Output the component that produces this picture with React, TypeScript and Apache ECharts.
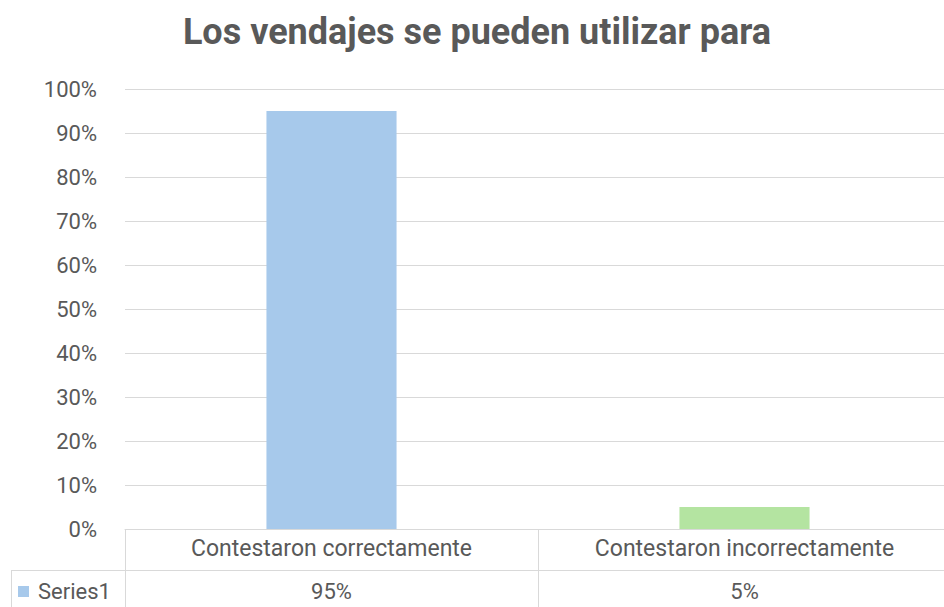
import React, { useEffect, useRef } from "react";
import * as echarts from "echarts";

const titleText = "Los vendajes se pueden utilizar para";
const categories = ["Contestaron correctamente", "Contestaron incorrectamente"];
const values = [0.95, 0.05];
const barColors = ["#a7c9eb", "#b4e4a1"];
const seriesName = "Series1";
const yTicks = [0, 0.1, 0.2, 0.3, 0.4, 0.5, 0.6, 0.7, 0.8, 0.9, 1.0];

const pct = (v: number) => `${Math.round(v * 100)}%`;
const textColor = "#595959";
const lineColor = "#d9d9d9";
const font = "Roboto, sans-serif";

export default function App() {
  const ref = useRef<HTMLDivElement>(null);
  useEffect(() => {
    document.body.style.margin = "0";
    document.body.style.overflow = "hidden";
    const chart = echarts.init(ref.current!, null, { renderer: "svg" });
    const valueLabels = values.map(pct);
    chart.setOption({
      animation: false,
      title: {
        text: titleText,
        left: 472,
        textAlign: "center",
        top: 9,
        textStyle: { fontFamily: font, fontWeight: "bold", fontSize: 36, color: textColor },
      },
      grid: { left: 125, width: 826, top: 89, bottom: 78, containLabel: false },
      xAxis: [
        {
          type: "category",
          data: categories,
          position: "bottom",
          axisLine: { show: true, lineStyle: { color: lineColor, width: 1 } },
          axisTick: { show: true, length: 80, alignWithLabel: false, lineStyle: { color: lineColor } },
          axisLabel: { color: textColor, fontSize: 23, fontFamily: font, margin: 8 },
        },
        {
          type: "category",
          data: valueLabels,
          position: "bottom",
          offset: 42,
          axisLine: { show: false },
          axisTick: { show: false },
          axisLabel: { color: textColor, fontSize: 22, fontFamily: font, margin: 9 },
        },
      ],
      yAxis: {
        type: "value",
        min: 0,
        max: 1,
        interval: 0.1,
        axisLine: { show: false },
        axisTick: { show: false },
        splitLine: { lineStyle: { color: lineColor, width: 1 } },
        axisLabel: {
          color: textColor,
          fontSize: 22,
          fontFamily: font,
          margin: 28,
          formatter: (v: number) => (yTicks.some((t) => Math.abs(t - v) < 1e-9) ? pct(v) : ""),
        },
      },
      series: [
        {
          name: seriesName,
          type: "bar",
          xAxisIndex: 0,
          barWidth: "31.5%",
          data: values.map((v, i) => ({ value: v, itemStyle: { color: barColors[i] } })),
        },
      ],
      graphic: [
        { type: "line", shape: { x1: 11, y1: 570.5, x2: 960, y2: 570.5 }, style: { stroke: lineColor, lineWidth: 1 } },
        { type: "line", shape: { x1: 11.5, y1: 570, x2: 11.5, y2: 607 }, style: { stroke: lineColor, lineWidth: 1 } },
        { type: "rect", shape: { x: 18, y: 586, width: 11, height: 11 }, style: { fill: barColors[0] } },
        {
          type: "text",
          x: 38,
          y: 591,
          style: { text: seriesName, fill: textColor, fontSize: 22, fontFamily: font, verticalAlign: "middle" },
        },
      ],
    });
    return () => chart.dispose();
  }, []);
  return (
    <div style={{ position: "absolute", left: 0, top: 0, width: 944, height: 607, overflow: "hidden" }}>
      <div ref={ref} style={{ width: 960, height: 607 }} />
    </div>
  );
}
